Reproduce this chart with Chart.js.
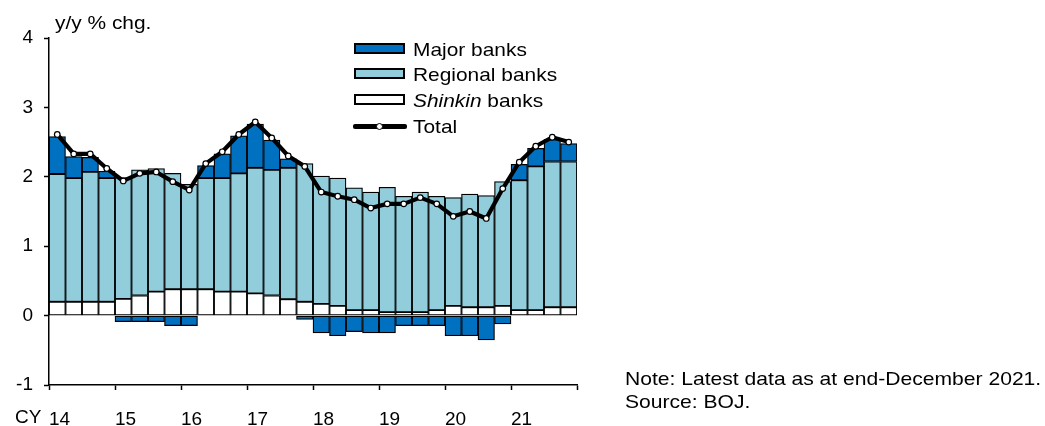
<!DOCTYPE html>
<html><head><meta charset="utf-8">
<script src="https://cdn.jsdelivr.net/npm/chart.js@4/dist/chart.umd.min.js"></script>
<style>
html,body{margin:0;padding:0;background:#fff;}
#wrap{position:relative;width:1045px;height:426px;font-family:"Liberation Sans",Arial,sans-serif;color:#000;overflow:hidden;}
#wrap canvas{position:absolute;left:0;top:0;}
.t{position:absolute;font-size:19px;line-height:23px;white-space:nowrap;transform-origin:0 0;transform:scaleX(1.1);}
.box{position:absolute;left:354px;width:47px;height:7px;border:2px solid #000;}
</style></head><body>
<div id="wrap">
<canvas id="c" width="1045" height="426"></canvas>
<div class="t" style="left:55px;top:11px">y/y % chg.</div>
<div class="t" style="left:15px;top:405px;transform:none">CY</div>
<div class="box" style="top:43px;background:#0070C0"></div>
<div class="box" style="top:68px;background:#92CDDC"></div>
<div class="box" style="top:94px;background:#fff"></div>
<div style="position:absolute;left:353px;top:124px;width:54px;height:4.5px;background:#000;border-radius:2px"></div>
<div style="position:absolute;left:375.5px;top:122.5px;width:5px;height:5px;background:#fff;border:1px solid #000;border-radius:50%"></div>
<div class="t" style="left:413px;top:38px">Major banks</div>
<div class="t" style="left:413px;top:63px">Regional banks</div>
<div class="t" style="left:413px;top:89px"><i>Shinkin</i> banks</div>
<div class="t" style="left:413px;top:115px">Total</div>
<div class="t" style="left:625px;top:367px;transform:scaleX(1.11)">Note: Latest data as at end-December 2021.<br>Source: BOJ.</div>
</div>
<script>
const quarters = ['14Q1','14Q2','14Q3','14Q4','15Q1','15Q2','15Q3','15Q4','16Q1','16Q2','16Q3','16Q4','17Q1','17Q2','17Q3','17Q4','18Q1','18Q2','18Q3','18Q4','19Q1','19Q2','19Q3','19Q4','20Q1','20Q2','20Q3','20Q4','21Q1','21Q2','21Q3','21Q4'];
const yearLabels = ['14','15','16','17','18','19','20','21'];
const shinkin = [0.20,0.20,0.20,0.20,0.24,0.29,0.345,0.38,0.38,0.38,0.345,0.345,0.32,0.29,0.235,0.20,0.17,0.14,0.08,0.08,0.05,0.05,0.05,0.08,0.14,0.12,0.12,0.14,0.08,0.08,0.12,0.12];
const regional = [1.84,1.78,1.87,1.78,1.75,1.81,1.775,1.67,1.51,1.60,1.635,1.705,1.81,1.81,1.895,1.99,1.84,1.84,1.76,1.70,1.80,1.67,1.73,1.64,1.56,1.63,1.61,1.79,1.87,2.07,2.10,2.10];
const major = [0.54,0.31,0.21,0.10,-0.086,-0.086,-0.086,-0.144,-0.144,0.18,0.35,0.54,0.63,0.43,0.13,-0.055,-0.25,-0.29,-0.23,-0.25,-0.25,-0.144,-0.144,-0.144,-0.29,-0.29,-0.35,-0.12,0.23,0.26,0.32,0.26];
const total = [2.61,2.33,2.33,2.12,1.94,2.05,2.07,1.93,1.81,2.19,2.36,2.61,2.79,2.56,2.30,2.15,1.78,1.72,1.67,1.55,1.61,1.61,1.70,1.61,1.43,1.50,1.40,1.83,2.21,2.44,2.57,2.50];

const tickFont = {family:'"Liberation Sans", Arial, sans-serif', size:19};
const barCommon = {stack:'banks', borderColor:'#000', borderWidth:1.25, borderSkipped:false, barPercentage:1, categoryPercentage:1};

new Chart(document.getElementById('c'), {
  data: {
    labels: quarters,
    datasets: [
      {type:'line', label:'Total', data: total, stack:'total', borderColor:'#000', borderWidth:4.2,
       pointRadius:2.8, pointBorderWidth:1.2, pointBackgroundColor:'#fff', pointBorderColor:'#000',
       tension:0, fill:false, borderJoinStyle:'round'},
      Object.assign({type:'bar', label:'Shinkin banks', data: shinkin, backgroundColor:'#ffffff'}, barCommon),
      Object.assign({type:'bar', label:'Regional banks', data: regional, backgroundColor:'#92CDDC'}, barCommon),
      Object.assign({type:'bar', label:'Major banks', data: major, backgroundColor:'#0070C0'}, barCommon)
    ]
  },
  options: {
    responsive:false, animation:false,
    layout:{padding:{top:38, right:468, left:0, bottom:0}},
    plugins:{legend:{display:false}, tooltip:{enabled:false}},
    scales:{
      x:{
        stacked:true, offset:true,
        grid:{offset:true, drawOnChartArea:false, tickLength:5, tickWidth:1.5,
              tickColor: c => (c.index === undefined || c.index % 4 === 0) ? '#000' : 'rgba(0,0,0,0)'},
        border:{color:'#000', width:1.5},
        ticks:{autoSkip:false, maxRotation:0, minRotation:0, align:'start', labelOffset:-8.25, padding:18,
               color:'#000', font:tickFont,
               callback:(v, i) => (i % 4 === 0 ? yearLabels[i/4] : '')},
        afterFit: s => { s.height = 41; }
      },
      y:{
        stacked:true, min:-1, max:4,
        ticks:{stepSize:1, padding:11, color:'#000', font:tickFont},
        grid:{drawOnChartArea:false, tickLength:5, tickWidth:1.5, tickColor:'#000'},
        border:{color:'#000', width:1.5},
        afterFit: s => { s.width = 49; }
      }
    }
  }
});
</script>
</body></html>
